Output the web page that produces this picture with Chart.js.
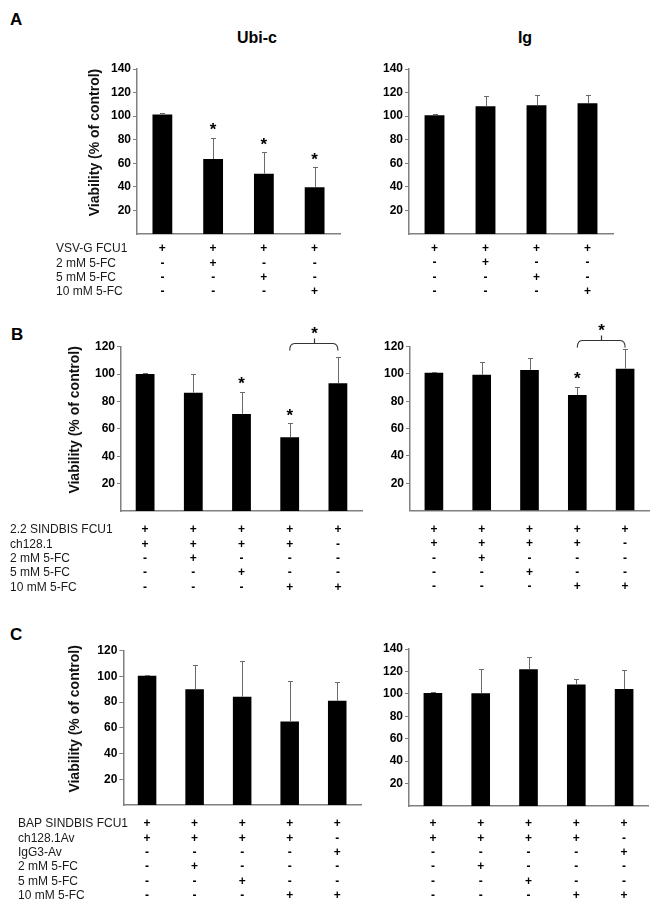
<!DOCTYPE html>
<html>
<head>
<meta charset="utf-8">
<script src="https://cdn.jsdelivr.net/npm/chart.js@4.4.0/dist/chart.umd.min.js"></script>
<style>
  body { margin: 0; background: #fff; }
  #page { position: relative; width: 662px; height: 912px; overflow: hidden; font-family: 'Liberation Sans', Arial, sans-serif; }
  #page canvas { position: absolute; }
  .lbl { position: absolute; font-weight: bold; color: #000; line-height: 1; white-space: nowrap; }
  .panel { font-size: 17px; }
  .head { font-size: 16px; width: 200px; text-align: center; }
</style>
</head>
<body>
<div id="page">
  <div class="lbl panel" style="left:10px; top:11px;">A</div>
  <div class="lbl panel" style="left:11px; top:326px;">B</div>
  <div class="lbl panel" style="left:10px; top:626px;">C</div>
  <div class="lbl head" style="left:157px; top:30px;">Ubi-c</div>
  <div class="lbl head" style="left:425px; top:30px;">Ig</div>
  <canvas id="chartA1"></canvas>
  <canvas id="chartA2"></canvas>
  <canvas id="chartB1"></canvas>
  <canvas id="chartB2"></canvas>
  <canvas id="chartC1"></canvas>
  <canvas id="chartC2"></canvas>
</div>
<script>
// --- DATA ---
const yTitle = 'Viability (% of control)';
const ticks140 = [20, 40, 60, 80, 100, 120, 140];
const ticks120 = [20, 40, 60, 80, 100, 120];

// panel A
const rowsA = ['VSV-G FCU1', '2 mM 5-FC', '5 mM 5-FC', '10 mM 5-FC'];
const signsA = [['+', '-', '-', '-'], ['+', '+', '-', '-'], ['+', '-', '+', '-'], ['+', '-', '-', '+']];
const ubiA = [101.5, 63.6, 51.2, 39.6];
const ubiAErr = [103, 81.7, 69.3, 56.8];
const ubiAStars = [false, true, true, true];
const igA = [100.7, 108.4, 109.2, 110.9];
const igAErr = [101.8, 116.8, 117.7, 118.2];

// panel B
const rowsB = ['2.2 SINDBIS FCU1', 'ch128.1', '2 mM 5-FC', '5 mM 5-FC', '10 mM 5-FC'];
const signsB = [['+', '+', '-', '-', '-'], ['+', '+', '+', '-', '-'], ['+', '+', '-', '+', '-'], ['+', '+', '-', '-', '+'], ['+', '-', '-', '-', '+']];
const ubiB = [100, 86.4, 70.9, 53.8, 93.3];
const ubiBErr = [100.6, 99.9, 87.1, 64.1, 112.3];
const ubiBStars = [false, false, true, true, false];
const igB = [101, 99.5, 103, 84.6, 103.9];
const igBErr = [101.4, 108.5, 112, 90.7, 118.5];
const igBStars = [false, false, false, true, false];
const bracketUbiB = { from: 3, to: 4, level: 123 };
const bracketIgB = { from: 3, to: 4, level: 124.7 };

// panel C
const rowsC = ['BAP SINDBIS FCU1', 'ch128.1Av', 'IgG3-Av', '2 mM 5-FC', '5 mM 5-FC', '10 mM 5-FC'];
const signsC = [['+', '+', '-', '-', '-', '-'], ['+', '+', '-', '+', '-', '-'], ['+', '+', '-', '-', '+', '-'], ['+', '+', '-', '-', '-', '+'], ['+', '-', '+', '-', '-', '+']];
const ubiC = [100.5, 90, 84.2, 65, 81.1];
const ubiCErr = [101, 108.9, 112.2, 96.7, 95.9];
const igC = [100.8, 100.6, 122, 108.3, 104.4];
const igCErr = [101.3, 122.2, 133.2, 113.6, 121];

const FONT = "'Liberation Sans', Arial, sans-serif";
const AXIS = '#808080';
const LINE_H = 14.3;

// --- CHART BUILDER ---
function makePanel(id, box, area, opts) {
    const canvas = document.getElementById(id);
    canvas.style.left = box.x + 'px';
    canvas.style.top = box.y + 'px';
    canvas.width = box.w;
    canvas.height = box.h;

    const yWidth = area.left - box.x;
    const xHeight = box.y + box.h - area.bottom;

    // error bars, stars, bracket, row names and y title
    const decor = {
        id: 'decor',
        afterDraw(chart) {
            const { ctx, scales: { x, y }, chartArea } = chart;
            ctx.save();

            ctx.strokeStyle = '#6a6a6a';
            ctx.lineWidth = 1;
            opts.errTop.forEach((e, i) => {
                const px = Math.round(x.getPixelForValue(i)) + 0.5;
                const top = Math.round(y.getPixelForValue(e)) + 0.5;
                const base = y.getPixelForValue(opts.values[i]);
                ctx.beginPath();
                ctx.moveTo(px, base);
                ctx.lineTo(px, top);
                ctx.moveTo(px - 2.5, top);
                ctx.lineTo(px + 2.5, top);
                ctx.stroke();
            });

            ctx.fillStyle = '#000';
            ctx.font = 'bold 17px ' + FONT;
            ctx.textAlign = 'center';
            ctx.textBaseline = 'alphabetic';
            (opts.stars || []).forEach((s, i) => {
                if (!s) return;
                ctx.fillText('*', x.getPixelForValue(i), y.getPixelForValue(opts.errTop[i]) - 2.5);
            });

            if (opts.bracket) {
                const b = opts.bracket;
                const x1 = x.getPixelForValue(b.from);
                const x2 = x.getPixelForValue(b.to);
                const yl = Math.round(y.getPixelForValue(b.level)) + 0.5;
                const mid = Math.round((x1 + x2) / 2) + 0.5;
                ctx.strokeStyle = '#333';
                ctx.lineWidth = 1.2;
                ctx.beginPath();
                ctx.moveTo(x1, yl + 7);
                ctx.quadraticCurveTo(x1, yl, x1 + 5, yl);
                ctx.lineTo(x2 - 5, yl);
                ctx.quadraticCurveTo(x2, yl, x2, yl + 7);
                ctx.moveTo(mid, yl);
                ctx.lineTo(mid, yl - 5);
                ctx.stroke();
                ctx.fillText('*', mid, yl - 4.5);
            }

            if (opts.rows) {
                ctx.font = '12px ' + FONT;
                ctx.fillStyle = '#1a1a1a';
                ctx.textAlign = 'left';
                ctx.textBaseline = 'middle';
                opts.rows.forEach((r, i) => {
                    ctx.fillText(r, opts.rowX - box.x, x.top + opts.labelGap + LINE_H * (i + 0.5));
                });

                ctx.font = 'bold 14px ' + FONT;
                ctx.fillStyle = '#111';
                ctx.textAlign = 'center';
                ctx.translate(opts.titleX - box.x, (chartArea.top + chartArea.bottom) / 2 - 9);
                ctx.rotate(-Math.PI / 2);
                ctx.fillText(yTitle, 0, 0);
            }
            ctx.restore();
        }
    };

    new Chart(canvas, {
        type: 'bar',
        data: {
            labels: opts.signs,
            datasets: [{
                data: opts.values,
                backgroundColor: '#000',
                borderWidth: 0,
                barPercentage: 0.39,
                categoryPercentage: 1
            }]
        },
        options: {
            responsive: false,
            animation: false,
            devicePixelRatio: 1,
            layout: {
                padding: { left: 0, bottom: 0, top: area.top - box.y, right: box.x + box.w - area.right }
            },
            plugins: { legend: { display: false }, tooltip: { enabled: false } },
            scales: {
                x: {
                    grid: { display: false, drawTicks: false },
                    border: { display: true, color: AXIS, width: 1.5 },
                    ticks: {
                        autoSkip: false,
                        maxRotation: 0,
                        color: '#000',
                        padding: opts.labelGap,
                        font: { family: FONT, size: 12, weight: 'bold', lineHeight: LINE_H / 12 }
                    },
                    afterFit: s => { s.height = xHeight; }
                },
                y: {
                    min: 0,
                    max: opts.max,
                    grid: { drawOnChartArea: false, tickLength: 4, color: AXIS },
                    border: { display: true, color: AXIS, width: 1.5 },
                    ticks: {
                        color: '#000',
                        padding: 2,
                        font: { family: FONT, size: 12, weight: 'bold' }
                    },
                    afterBuildTicks: s => { s.ticks = opts.ticks.map(v => ({ value: v })); },
                    afterFit: s => { s.width = yWidth; }
                }
            }
        },
        plugins: [decor]
    });
}

// --- PANEL A ---
makePanel('chartA1', { x: 0, y: 45, w: 365, h: 260 }, { left: 137, top: 69, right: 340, bottom: 234 },
    { signs: signsA, values: ubiA, errTop: ubiAErr, stars: ubiAStars, max: 140, ticks: ticks140,
      rows: rowsA, rowX: 56, titleX: 95, labelGap: 8 });
makePanel('chartA2', { x: 365, y: 45, w: 297, h: 260 }, { left: 409, top: 69, right: 613, bottom: 234 },
    { signs: signsA, values: igA, errTop: igAErr, max: 140, ticks: ticks140, labelGap: 7.5 });

// --- PANEL B ---
makePanel('chartB1', { x: 0, y: 315, w: 365, h: 285 }, { left: 121, top: 346.7, right: 362, bottom: 511 },
    { signs: signsB, values: ubiB, errTop: ubiBErr, stars: ubiBStars, bracket: bracketUbiB, max: 120, ticks: ticks120,
      rows: rowsB, rowX: 10, titleX: 75, labelGap: 12 });
makePanel('chartB2', { x: 365, y: 315, w: 297, h: 285 }, { left: 410, top: 346.7, right: 649, bottom: 510.5 },
    { signs: signsB, values: igB, errTop: igBErr, stars: igBStars, bracket: bracketIgB, max: 120, ticks: ticks120, labelGap: 12 });

// --- PANEL C ---
makePanel('chartC1', { x: 0, y: 620, w: 365, h: 292 }, { left: 123.3, top: 650.7, right: 361, bottom: 805 },
    { signs: signsC, values: ubiC, errTop: ubiCErr, max: 120, ticks: ticks120,
      rows: rowsC, rowX: 18, titleX: 75, labelGap: 12 });
makePanel('chartC2', { x: 365, y: 620, w: 297, h: 292 }, { left: 409, top: 649, right: 648, bottom: 806 },
    { signs: signsC, values: igC, errTop: igCErr, max: 140, ticks: ticks140, labelGap: 11 });
</script>
</body>
</html>
